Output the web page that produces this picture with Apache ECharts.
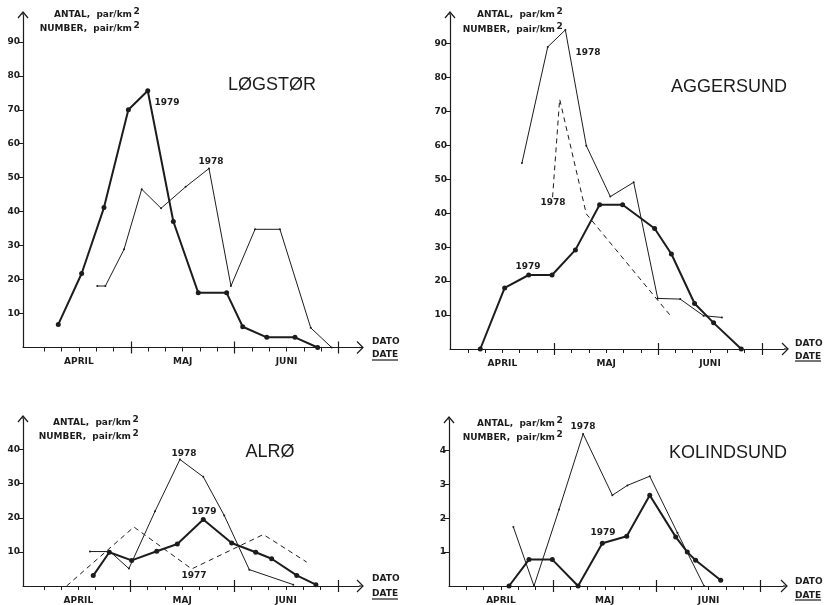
<!DOCTYPE html>
<html><head><meta charset="utf-8">
<script src="https://cdn.jsdelivr.net/npm/echarts@6/dist/echarts.min.js"></script>
<style>html,body{margin:0;padding:0;background:#fff}#c{width:825px;height:605px}</style>
</head><body><div id="c"></div><script>
// x unit = 1/6 month (~5 days): 0 = 1 April, 6 = 1 May, 12 = 1 June, 18 = 1 July
const monthLabels = ['APRIL', 'MAJ', 'JUNI'];
const monthLabelPos = [3, 9, 15];
const majorTicks = [6, 12, 18];
const minorTicks = [1, 2, 3, 4, 5, 7, 8, 9, 10, 11, 13, 14, 15, 16, 17];
const yTicks90 = [10, 20, 30, 40, 50, 60, 70, 80, 90];
const yTicks40 = [10, 20, 30, 40];
const yTicks4 = [1, 2, 3, 4];

// LØGSTØR
const logstor1979X = [1.81, 3.16, 4.45, 5.86, 6.98, 8.46, 9.90, 11.54, 12.47, 13.86, 15.49, 16.8];
const logstor1979Y = [6.8, 21.8, 41.2, 70, 75.6, 37.1, 16.1, 16.1, 6.1, 3.0, 3.0, 0];
const logstor1978X = [4.06, 4.53, 5.61, 6.63, 7.75, 9.17, 10.52, 11.79, 13.18, 14.62, 16.4, 17.61];
const logstor1978Y = [18.1, 18.1, 28.9, 46.6, 41.0, 47.3, 52.7, 18.1, 34.8, 34.8, 5.8, 0];

// AGGERSUND
const agger1979X = [1.72, 3.13, 4.52, 5.87, 7.22, 8.62, 9.95, 11.8, 12.77, 14.11, 15.21, 16.81];
const agger1979Y = [0, 18.0, 21.8, 21.8, 29.2, 42.5, 42.5, 35.5, 28.0, 13.4, 7.7, 0];
const agger1978X = [4.13, 5.62, 6.64, 7.85, 9.24, 10.59, 11.98, 13.28, 14.63, 15.69];
const agger1978Y = [54.8, 89.0, 94.0, 59.9, 44.9, 49.1, 14.9, 14.7, 9.8, 9.3];
const agger1978bX = [5.9, 6.31, 7.85, 12.77];
const agger1978bY = [44.7, 73.6, 39.8, 9.5];

// ALRØ
const alro1979X = [3.86, 4.79, 6.08, 7.53, 8.72, 10.22, 11.86, 13.25, 14.17, 15.62, 16.73];
const alro1979Y = [3.05, 9.9, 7.5, 10.2, 12.3, 19.5, 12.6, 9.9, 8.0, 3.1, 0.4];
const alro1978X = [3.67, 4.83, 5.92, 7.43, 8.87, 10.22, 11.43, 12.88, 15.42];
const alro1978Y = [10.1, 10.1, 5.1, 21.9, 37.1, 32.0, 20.7, 4.8, 0.4];
const alro1977X = [2.32, 6.21, 9.55, 13.69, 16.2];
const alro1977Y = [0, 17.3, 5.0, 15.1, 7.0];

// KOLINDSUND
const kol1979X = [3.47, 4.62, 5.97, 7.46, 8.86, 10.27, 11.6, 13.1, 13.77, 14.25, 15.7];
const kol1979Y = [0, 0.78, 0.78, 0, 1.26, 1.47, 2.68, 1.45, 1.0, 0.76, 0.17];
const kol1978X = [3.72, 4.91, 6.36, 7.75, 9.44, 10.31, 11.6, 13.2, 14.74];
const kol1978Y = [1.74, 0, 2.26, 4.49, 2.68, 2.97, 3.24, 1.57, 0];

const ink = '#1c1c1c';
const FONT = 'DejaVu Sans';
const zip = (xs, ys) => xs.map((x, i) => [x, ys[i]]);

const panels = [
  { grid: {left: 23, top: 15, width: 336, height: 332.5}, x: [-0.23, 19.19], ymax: 97.9, yticks: yTicks90,
    series: [{d: zip(logstor1979X, logstor1979Y), s: 'thick'}, {d: zip(logstor1978X, logstor1978Y), s: 'thin'}] },
  { grid: {left: 450, top: 15, width: 334, height: 334}, x: [-0.03, 19.28], ymax: 98.4, yticks: yTicks90,
    series: [{d: zip(agger1979X, agger1979Y), s: 'thick'}, {d: zip(agger1978X, agger1978Y), s: 'thin'}, {d: zip(agger1978bX, agger1978bY), s: 'dash'}] },
  { grid: {left: 23, top: 419, width: 336, height: 167}, x: [-0.2, 19.22], ymax: 48.97, yticks: yTicks40,
    series: [{d: zip(alro1979X, alro1979Y), s: 'thick'}, {d: zip(alro1978X, alro1978Y), s: 'thin'}, {d: zip(alro1977X, alro1977Y), s: 'dash'}] },
  { grid: {left: 449, top: 420, width: 334, height: 166}, x: [0, 19.3], ymax: 4.9, yticks: yTicks4,
    series: [{d: zip(kol1979X, kol1979Y), s: 'thick'}, {d: zip(kol1978X, kol1978Y), s: 'thin'}] }
];

const grid = [], xAxis = [], yAxis = [], series = [], graphic = [];
panels.forEach((p, i) => {
  grid.push(Object.assign({containLabel: false}, p.grid));
  const base = {gridIndex: i, type: 'value', min: p.x[0], max: p.x[1], position: 'bottom', offset: 0, splitLine: {show: false}};
  xAxis.push(Object.assign({}, base, {
    axisLine: {show: true, onZero: false, lineStyle: {color: ink, width: 1.2}},
    axisTick: {show: true, customValues: minorTicks, length: 4, lineStyle: {color: ink, width: 1}},
    axisLabel: {show: true, customValues: monthLabelPos, margin: 10, color: ink, fontFamily: FONT, fontWeight: 'bold', fontSize: 9,
      formatter: v => monthLabels[monthLabelPos.indexOf(Math.round(v))] || ''}
  }));
  xAxis.push(Object.assign({}, base, {
    axisLine: {show: false, onZero: false}, axisLabel: {show: false},
    axisTick: {show: true, customValues: majorTicks, length: 6, lineStyle: {color: ink, width: 1.2}}
  }));
  xAxis.push(Object.assign({}, base, {
    axisLine: {show: false, onZero: false}, axisLabel: {show: false},
    axisTick: {show: true, inside: true, customValues: majorTicks, length: 6, lineStyle: {color: ink, width: 1.2}}
  }));
  yAxis.push({gridIndex: i, type: 'value', min: 0, max: p.ymax, position: 'left', splitLine: {show: false},
    axisLine: {show: true, onZero: false, lineStyle: {color: ink, width: 1.2}},
    axisTick: {show: true, customValues: p.yticks, length: 5, lineStyle: {color: ink}},
    axisLabel: {show: true, customValues: p.yticks, margin: 3, color: ink, fontFamily: FONT, fontWeight: 'bold', fontSize: 9}
  });
  p.series.forEach(s => {
    const o = {type: 'line', xAxisIndex: i * 3, yAxisIndex: i, data: s.d, silent: true, animation: false, z: 3};
    if (s.s === 'thick') {
      Object.assign(o, {symbol: 'circle', symbolSize: 5, showSymbol: true, lineStyle: {color: ink, width: 2}, itemStyle: {color: ink}});
    } else if (s.s === 'thin') {
      Object.assign(o, {symbol: 'circle', symbolSize: 2, showSymbol: true, lineStyle: {color: ink, width: 1}, itemStyle: {color: ink}});
    } else {
      Object.assign(o, {symbol: 'none', lineStyle: {color: ink, width: 1, type: [5, 4]}});
    }
    series.push(o);
  });
  // open chevron arrowheads at the axis ends
  const g = p.grid, L = g.left, T = g.top, R = g.left + g.width, B = g.top + g.height;
  const st = {stroke: ink, lineWidth: 1.2, fill: null};
  graphic.push({type: 'polyline', silent: true, shape: {points: [[R, B], [R + 4, B]]}, style: st});
  graphic.push({type: 'polyline', silent: true, shape: {points: [[R - 2, B - 6], [R + 4, B], [R - 2, B + 6]]}, style: st});
  graphic.push({type: 'polyline', silent: true, shape: {points: [[L, T], [L, T - 3]]}, style: st});
  graphic.push({type: 'polyline', silent: true, shape: {points: [[L - 5, T + 3], [L, T - 3], [L + 5, T + 3]]}, style: st});
});

const txt = (x, y, text, opt) => ({type: 'text', x, y, silent: true, z: 10,
  style: Object.assign({text, fill: ink, font: 'bold 9px "DejaVu Sans"', textAlign: 'left', textVerticalAlign: 'middle'}, opt || {})});
// titles
[['LØGSTØR', 272, 85], ['AGGERSUND', 729, 87], ['ALRØ', 270, 452], ['KOLINDSUND', 728, 453]].forEach(t =>
  graphic.push(txt(t[1], t[2], t[0], {font: '18px "Liberation Sans"', textAlign: 'center'})));
// axis names
[[132, 15, 29], [555, 15, 30], [131, 423, 437], [555, 424, 438]].forEach(a => {
  graphic.push(txt(a[0], a[1], 'ANTAL,  par/km', {textAlign: 'right'}));
  graphic.push(txt(a[0] + 1.5, a[1] - 3.5, '2', {}));
  graphic.push(txt(a[0], a[2], 'NUMBER,  pair/km', {textAlign: 'right'}));
  graphic.push(txt(a[0] + 1.5, a[2] - 3.5, '2', {}));
});
// DATO / DATE
[[372, 342, 355, 360], [795, 344, 357, 361], [372, 579, 594, 599], [795, 582, 596, 600]].forEach(d => {
  graphic.push(txt(d[0], d[1], 'DATO'));
  graphic.push(txt(d[0], d[2], 'DATE'));
  graphic.push({type: 'line', silent: true, shape: {x1: d[0], y1: d[3], x2: d[0] + 26, y2: d[3]}, style: {stroke: ink, lineWidth: 1.2}});
});
// year annotations
[['1979', 167, 103], ['1978', 211, 162], ['1978', 588, 53], ['1978', 553, 203], ['1979', 528, 267],
 ['1978', 184, 454], ['1979', 204, 512], ['1977', 194, 576], ['1978', 583, 427], ['1979', 603, 533]].forEach(a =>
  graphic.push(txt(a[1], a[2], a[0], {textAlign: 'center'})));

const chart = echarts.init(document.getElementById('c'), null, {renderer: 'canvas'});
chart.setOption({animation: false, backgroundColor: '#fff', grid, xAxis, yAxis, series, graphic});
</script></body></html>
